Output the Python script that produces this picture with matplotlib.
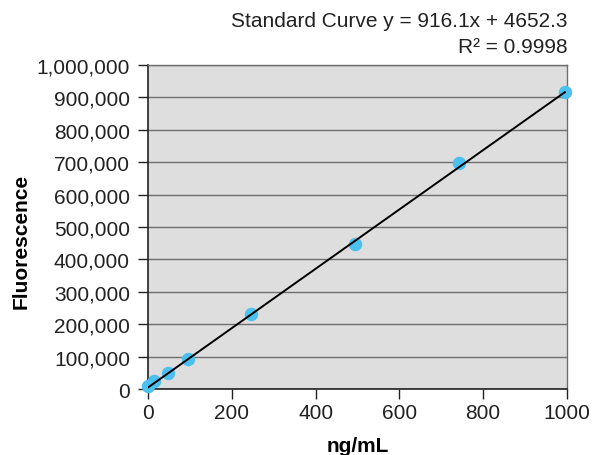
import matplotlib
matplotlib.use("Agg")
import matplotlib.pyplot as plt
import numpy as np
from matplotlib.ticker import FuncFormatter

# standards
conc = [0, 15, 47, 95, 245, 495, 742, 995]
fluor = [8000, 25000, 48000, 92000, 231000, 447000, 697000, 917000]
slope = 916.1
intercept = 4652.3
x_ticks = [0, 200, 400, 600, 800, 1000]
y_ticks = list(range(0, 1000001, 100000))

plt.rcParams["font.family"] = ["Liberation Sans", "DejaVu Sans"]

fig = plt.figure(figsize=(5.93, 4.56), dpi=100)
ax = fig.add_axes([0.2496, 0.1447, 0.7065, 0.7105])
ax.set_facecolor("#dedede")

ax.set_xlim(0, 1000)
ax.set_ylim(0, 1000000)
ax.set_xticks(x_ticks)
ax.set_yticks(y_ticks)
ax.yaxis.set_major_formatter(FuncFormatter(lambda v, p: f"{int(v):,}"))
ax.grid(axis="y", color="#707070", linewidth=1.0)
ax.set_axisbelow(True)

ax.scatter(conc, fluor, s=75, color="#4cc0ee", zorder=3, clip_on=False)
fit_x = np.array([conc[0], conc[-1]])
ax.plot(fit_x, slope * fit_x + intercept, color="black", linewidth=1.4,
        zorder=4)

for side in ["left", "bottom"]:
    ax.spines[side].set_color("#222222")
    ax.spines[side].set_linewidth(1.2)
for side in ["top", "right"]:
    ax.spines[side].set_color("#6e6e6e")
    ax.spines[side].set_linewidth(1.0)

ax.tick_params(axis="both", labelsize=15, length=7, width=1.0,
               colors="#222222", labelcolor="#222222")
ax.tick_params(axis="y", pad=6)
ax.tick_params(axis="x", pad=3)

ax.set_xlabel("ng/mL", fontsize=15, fontweight="bold", labelpad=10)
ax.set_ylabel("Fluorescence", fontsize=15, fontweight="bold")
ax.yaxis.set_label_coords(-0.28, 0.46)

fig.text(0.957, 0.952, "Standard Curve y = 916.1x + 4652.3", ha="right",
         va="center", fontsize=15, color="#222222")
fig.text(0.957, 0.895, "R\u00b2 = 0.9998", ha="right", va="center",
         fontsize=15, color="#222222")

fig.savefig("out.png", dpi=100)
